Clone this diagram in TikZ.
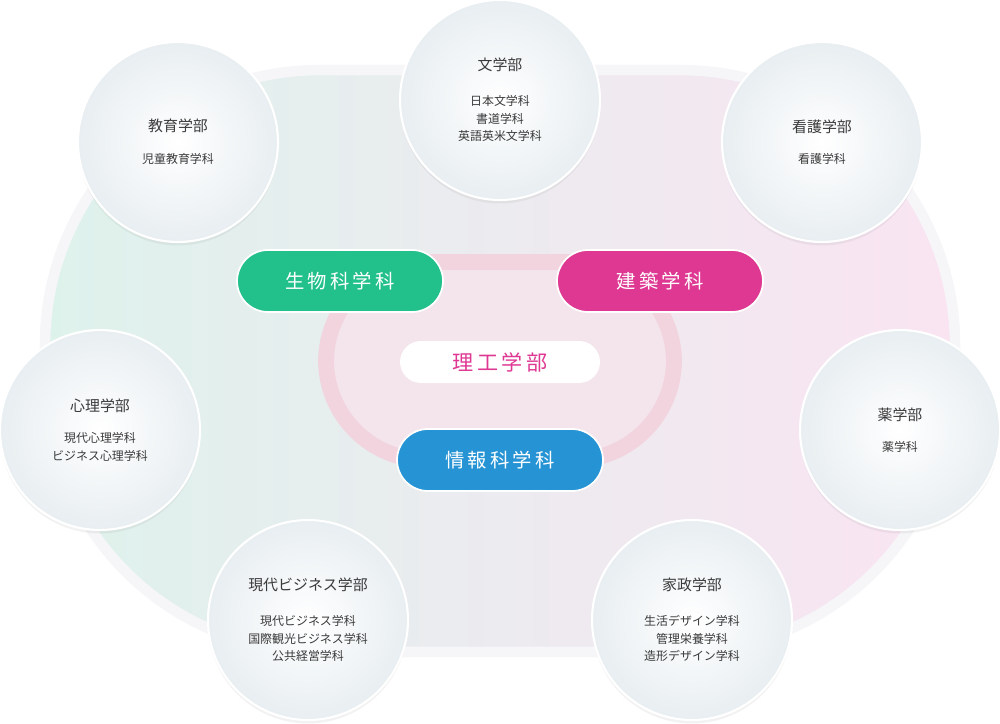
\documentclass[tikz,border=0pt]{standalone}
\usepackage{fontspec}
\setmainfont{Noto Sans CJK JP}
\usetikzlibrary{shadows}
\definecolor{txt}{HTML}{3A3A3A}
\definecolor{gbio}{HTML}{22C08B}
\definecolor{garc}{HTML}{DE3892}
\definecolor{ginf}{HTML}{2694D4}
\definecolor{bgL}{RGB}{222,242,236}
\definecolor{bgR}{RGB}{250,228,242}
\definecolor{bgE}{RGB}{246,246,249}
\definecolor{ringC}{RGB}{242,212,222}
\definecolor{ringF}{RGB}{244,228,236}
\definecolor{facO}{RGB}{232,238,241}
\tikzset{
 fac/.style={circle,minimum size=4cm,draw=white,line width=1.2pt,inner sep=0pt,align=center,text=txt,
   inner color=white,outer color=facO,drop shadow={opacity=0.1,shadow xshift=0pt,shadow yshift=-2pt}},
 pill/.style={rounded corners=0.62cm,minimum width=4.12cm,minimum height=1.24cm,text=white,font=\fontsize{11}{13}\selectfont,draw=white,line width=1pt},
}
\newcommand{\sub}[1]{{\fontsize{6.8}{10}\selectfont #1}}
\newcommand{\ttlx}[1]{{\fontsize{8.5}{10}\selectfont #1}}
\begin{document}
\begin{tikzpicture}[x=0.02cm,y=-0.02cm]
\useasboundingbox (0,0) rectangle (1000,723);
\shade[left color=bgL,right color=bgR,rounded corners=5.5cm,draw=bgE,line width=6pt] (45,70) rectangle (955,652);
\draw[ringC,line width=9pt,fill=ringF,rounded corners=2cm] (326,262) rectangle (674,460);
\node[pill,fill=gbio] (bio) at (340,281) {生\,物\,科\,学\,科};
\node[pill,fill=garc] (arc) at (660,281) {建\,築\,学\,科};
\node[pill,fill=ginf] (inf) at (500,460) {情\,報\,科\,学\,科};
\node[rounded corners=0.42cm,fill=white,minimum width=4cm,minimum height=0.84cm,text=garc,font=\fontsize{12}{14}\selectfont] (rik) at (500,362) {理\,工\,学\,部};
\node[fac] (bun) at (500,100) {\ttlx{文学部}\\[8pt]\sub{日本文学科}\\[-2pt]\sub{書道学科}\\[-2pt]\sub{英語英米文学科}};
\node[fac] (kyo) at (178,142) {\ttlx{教育学部}\\[6pt]\sub{児童教育学科}};
\node[fac] (kan) at (822,142) {\ttlx{看護学部}\\[6pt]\sub{看護学科}};
\node[fac] (shi) at (100,430) {\ttlx{心理学部}\\[6pt]\sub{現代心理学科}\\[-2pt]\sub{ビジネス心理学科}};
\node[fac] (yak) at (900,430) {\ttlx{薬学部}\\[6pt]\sub{薬学科}};
\node[fac] (gen) at (308,620) {\ttlx{現代ビジネス学部}\\[8pt]\sub{現代ビジネス学科}\\[-2pt]\sub{国際観光ビジネス学科}\\[-2pt]\sub{公共経営学科}};
\node[fac] (kas) at (692,620) {\ttlx{家政学部}\\[8pt]\sub{生活デザイン学科}\\[-2pt]\sub{管理栄養学科}\\[-2pt]\sub{造形デザイン学科}};
\end{tikzpicture}
\end{document}
